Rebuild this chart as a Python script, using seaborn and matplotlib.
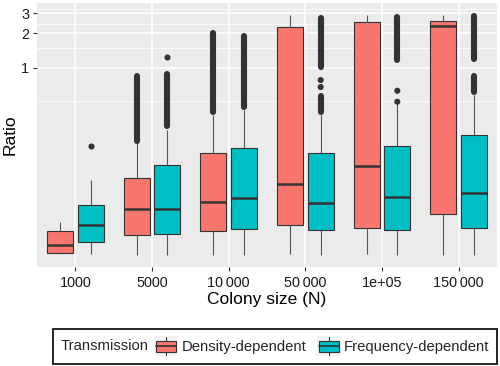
import numpy as np
import pandas as pd
import matplotlib
matplotlib.use("Agg")
import matplotlib.pyplot as plt
from matplotlib.patches import Rectangle, Patch
from matplotlib.lines import Line2D
from matplotlib.legend_handler import HandlerBase
from matplotlib.offsetbox import HPacker
import seaborn as sns

sizes = ["1000", "5000", "10\u2009000", "50\u2009000", "1e+05", "150\u2009000"]
groups = ["Density-dependent", "Frequency-dependent"]
colors = ["#F8766D", "#00BFC4"]

# five-number summaries: lower whisker, Q1, median, Q3, upper whisker
dens_stats = [
    [0.024, 0.024, 0.028, 0.037, 0.045],
    [0.0228, 0.0341, 0.0576, 0.1075, 0.219],
    [0.0228, 0.0369, 0.0663, 0.180, 0.385],
    [0.0232, 0.0417, 0.0964, 2.29, 2.89],
    [0.0232, 0.0397, 0.138, 2.53, 2.89],
    [0.0228, 0.052, 2.32, 2.58, 2.89],
]
freq_stats = [
    [0.0232, 0.030, 0.0422, 0.0628, 0.105],
    [0.0228, 0.035, 0.0576, 0.141, 0.285],
    [0.0228, 0.0389, 0.0719, 0.198, 0.426],
    [0.0228, 0.0379, 0.0657, 0.178, 0.385],
    [0.0228, 0.0379, 0.0738, 0.2075, 0.481],
    [0.0228, 0.0397, 0.0804, 0.2575, 0.577],
]

# single outliers
out_size = ["1000", "5000", "50\u2009000", "50\u2009000", "1e+05", "1e+05"]
out_group = ["Frequency-dependent"] * 6
out_value = [0.2075, 1.25, 0.78, 0.678, 0.629, 0.504]

# runs of outliers so dense they merge into a bar (low, high)
run_size = ["5000", "5000", "10\u2009000", "10\u2009000", "50\u2009000",
            "50\u2009000", "1e+05", "150\u2009000", "150\u2009000"]
run_group = ["Density-dependent", "Frequency-dependent", "Density-dependent",
             "Frequency-dependent", "Frequency-dependent", "Frequency-dependent",
             "Frequency-dependent", "Frequency-dependent", "Frequency-dependent"]
run_low = [0.228, 0.309, 0.409, 0.453, 1.014, 0.409, 1.168, 1.199, 0.613]
run_high = [0.846, 0.886, 2.01, 1.895, 2.72, 0.565, 2.78, 2.818, 0.846]

rows = []
for s, d, f in zip(sizes, dens_stats, freq_stats):
    rows += [(s, groups[0], v) for v in d]
    rows += [(s, groups[1], v) for v in f]
df = pd.DataFrame(rows, columns=["size", "trans", "ratio"])
outliers = pd.DataFrame({"size": out_size, "trans": out_group, "ratio": out_value})

sns.set_theme(style="darkgrid", rc={"axes.facecolor": "#EBEBEB", "grid.color": "white"})
plt.rcParams["font.family"] = ["Liberation Sans", "DejaVu Sans"]

dark = "#333333"
fig = plt.figure(figsize=(5, 3.66), dpi=100)
ax = fig.add_axes([0.074, 0.2705, 0.92, 0.7213])

sns.boxplot(data=df, x="size", y="ratio", hue="trans", order=sizes, hue_order=groups,
            palette=colors, saturation=1, whis=np.inf, width=0.8, gap=0.15,
            linecolor=dark, linewidth=0.8, showcaps=False, log_scale=True,
            medianprops=dict(linewidth=1.8), whiskerprops=dict(color="#555555"),
            legend=False, ax=ax)
sns.stripplot(data=outliers, x="size", y="ratio", hue="trans", order=sizes,
              hue_order=groups, palette=[dark, dark], dodge=True, jitter=False,
              size=4.4, linewidth=0, legend=False, ax=ax)

offset = {groups[0]: -0.2, groups[1]: 0.2}
run_x = [sizes.index(s) + offset[g] for s, g in zip(run_size, run_group)]
ax.vlines(run_x, run_low, run_high, colors=dark, linewidth=4.4, capstyle="round")

ax.set_xlim(-0.5, 5.5)
ax.set_ylim(0.018, 3.69)
ax.set_yticks([1, 2, 3], ["1", "2", "3"])
ax.set_yticks([0.511, 1.487, 2.41, 3.27], minor=True)
ax.yaxis.set_minor_formatter(plt.NullFormatter())
ax.grid(True, which="major", color="white", linewidth=1.1)
ax.grid(True, which="minor", axis="y", color="white", linewidth=0.55)
ax.xaxis.grid(True, which="major")
for sp in ax.spines.values():
    sp.set_visible(False)

ax.tick_params(axis="both", which="major", length=3, width=0.8, color=dark,
               labelsize=10.4, labelcolor="#1a1a1a", bottom=True, left=True)
ax.tick_params(axis="x", pad=3.3)
ax.tick_params(axis="y", pad=2.4)
ax.tick_params(which="minor", length=0)

ax.set_xlabel("Colony size (N)", fontsize=12.5, color="black", va="center")
ax.set_ylabel("Ratio", fontsize=12.5, color="black", va="center")
ax.xaxis.set_label_coords(0.5, -0.125)
ax.yaxis.set_label_coords(-0.058, 0.5)


class BoxKey(HandlerBase):
    def create_artists(self, legend, orig, xd, yd, w, h, fontsize, trans):
        x0, y0 = -xd, -yd
        bg = Rectangle((x0, y0), w, h, facecolor="#F2F2F2", edgecolor="none", transform=trans)
        box = Rectangle((x0 + 0.1 * w, y0 + 0.22 * h), 0.8 * w, 0.56 * h,
                        facecolor=orig.get_facecolor(), edgecolor=dark, linewidth=0.8,
                        transform=trans)
        med = Line2D([x0 + 0.1 * w, x0 + 0.9 * w], [y0 + 0.5 * h] * 2, color=dark,
                     linewidth=1.2, transform=trans)
        wt = Line2D([x0 + 0.5 * w] * 2, [y0 + 0.78 * h, y0 + 0.95 * h], color=dark,
                    linewidth=0.8, transform=trans)
        wb = Line2D([x0 + 0.5 * w] * 2, [y0 + 0.05 * h, y0 + 0.22 * h], color=dark,
                    linewidth=0.8, transform=trans)
        return [bg, box, med, wt, wb]


handles = [Patch(facecolor=c) for c in colors]
leg = fig.legend(handles=handles, labels=groups, handler_map={Patch: BoxKey()},
                 ncol=2, title="Transmission", loc="center", bbox_to_anchor=(0.55, 0.0535),
                 fontsize=10.7, title_fontsize=10.7, frameon=True, fancybox=False,
                 framealpha=1, facecolor="white", edgecolor="black", borderpad=0.5,
                 handlelength=1.65, handleheight=1.7, handletextpad=0.2, columnspacing=0.7)
leg.get_frame().set_linewidth(1.2)
# put the legend title to the left of the keys, as in ggplot
hp = HPacker(children=[leg._legend_title_box, leg._legend_handle_box],
             align="center", pad=0, sep=4)
leg._legend_box._children = [hp]
hp.set_figure(fig)

fig.savefig("out.png", dpi=100, facecolor="white")
